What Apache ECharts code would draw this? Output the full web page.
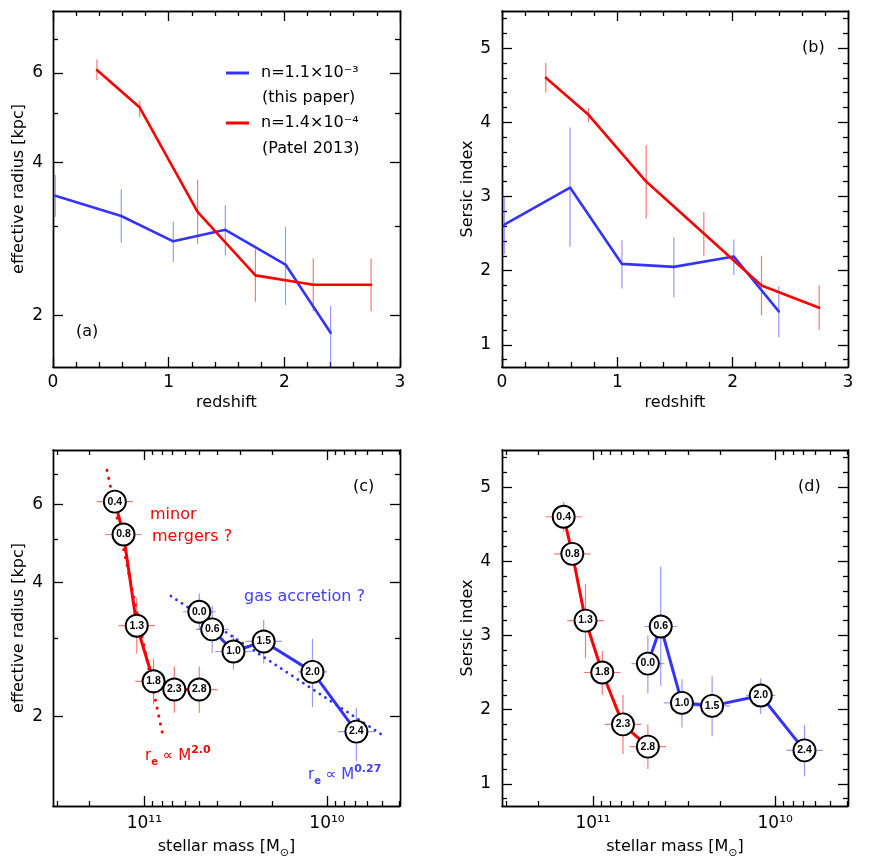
<!DOCTYPE html>
<html><head><meta charset="utf-8">
<script src="https://cdn.jsdelivr.net/npm/echarts@6/dist/echarts.min.js"></script>
<style>html,body{margin:0;padding:0;background:#fff}#chart{width:872px;height:861px}</style>
</head><body><div id="chart"></div>
<script>
// ---------------- data ----------------
// this paper (blue), n = 1.1e-3
const zBlue = [0.02, 0.59, 1.04, 1.49, 2.01, 2.40];
const zBlueLabels = ['0.0', '0.6', '1.0', '1.5', '2.0', '2.4'];
const reBlue = [3.44, 3.14, 2.80, 2.95, 2.52, 1.85];
const reBlueLo = [3.13, 2.78, 2.55, 2.63, 2.10, 1.59];
const reBlueHi = [3.78, 3.55, 3.06, 3.30, 2.99, 2.09];
const nBlue = [2.62, 3.12, 2.09, 2.05, 2.19, 1.45];
const nBlueLo = [2.22, 2.32, 1.76, 1.64, 1.94, 1.10];
const nBlueHi = [3.00, 3.93, 2.41, 2.45, 2.42, 1.79];
const massBlue = [5.0, 4.25, 3.25, 2.22, 1.20, 0.69];      // 1e10 Msun
const massErrBlue = [0.09, 0.09, 0.10, 0.10, 0.08, 0.10];  // dex

// Patel 2013 (red), n = 1.4e-4
const zRed = [0.38, 0.75, 1.25, 1.75, 2.25, 2.75];
const zRedLabels = ['0.4', '0.8', '1.3', '1.8', '2.3', '2.8'];
const reRed = [6.08, 5.13, 3.20, 2.40, 2.30, 2.30];
const reRedLo = [5.81, 4.91, 2.77, 2.13, 2.04, 2.04];
const reRedHi = [6.38, 5.29, 3.70, 2.70, 2.59, 2.59];
const nRed = [4.60, 4.10, 3.20, 2.50, 1.80, 1.50];
const nRedLo = [4.40, 4.00, 2.70, 2.20, 1.40, 1.20];
const nRedHi = [4.80, 4.19, 3.69, 2.79, 2.20, 1.80];
const massRed = [14.5, 13.0, 11.0, 8.9, 6.85, 5.0];        // 1e10 Msun
const massErrRed = [0.10, 0.10, 0.10, 0.10, 0.10, 0.10];   // dex

// power-law guide lines in panel (c): end points
const fitRedMass = [16.0, 7.95];  const fitRedRe = [7.15, 1.83];
const fitBlueMass = [7.15, 0.50]; const fitBlueRe = [3.73, 1.82];

// ticks
const zMajor = [0, 1, 2, 3];
const zMinor = [0.2, 0.4, 0.6, 0.8, 1.2, 1.4, 1.6, 1.8, 2.2, 2.4, 2.6, 2.8];
const reMajor = [2, 4, 6];
const reMinor = [3, 5, 7];
const nMajor = [1, 2, 3, 4, 5];
const nMinor = [0.8, 1.2, 1.4, 1.6, 1.8, 2.2, 2.4, 2.6, 2.8, 3.2, 3.4, 3.6, 3.8, 4.2, 4.4, 4.6, 4.8, 5.2, 5.4];
const massMajor = [1, 10];   // 1e10 Msun
const massMinor = [0.4, 0.5, 0.6, 0.7, 0.8, 0.9, 2, 3, 4, 5, 6, 7, 8, 9, 20, 30];

// ---------------- helpers ----------------
const FONT = 'DejaVu Sans';
const BLUE = '#3434ff', RED = '#ff0000';
const BLUE_ERR = 'rgba(70,70,255,0.55)', RED_ERR = 'rgba(255,30,30,0.6)';
const L = Math.log10;
const lm = m => 10 + L(m);   // log10 of mass in Msun
const SUP = {'0': '\u2070', '1': '\u00B9'};
const LB = 'n=1.1\u00D710\u207B\u00B3';
const LR = 'n=1.4\u00D710\u207B\u2074';

const grids = [
  {left: 53, top: 11, width: 347, height: 356},
  {left: 502, top: 11, width: 346, height: 356},
  {left: 53, top: 450, width: 347, height: 356},
  {left: 502, top: 450, width: 346, height: 356}
].map(g => Object.assign(g, {containLabel: false, outerBoundsMode: 'none'}));

const xAxes = [], yAxes = [];
function addAxisSet(list, gridIndex, posMain, posOpp, ext, inverse, major, minor, lab) {
  const start = list.length;
  const base = (pos, vals, len) => ({
    type: 'value', gridIndex, position: pos, min: ext[0], max: ext[1], inverse: !!inverse,
    axisLine: {show: true, onZero: false, lineStyle: {color: '#000', width: 1.4}},
    axisTick: {show: true, inside: true, length: len, customValues: vals, lineStyle: {color: '#000', width: 1.3}},
    minorTick: {show: false}, axisLabel: {show: false}, splitLine: {show: false}, silent: true
  });
  const main = base(posMain, major, 10);
  main.axisLabel = {show: true, customValues: major, formatter: lab.fmt, fontSize: 17,
    color: '#000', fontFamily: FONT, margin: lab.margin};
  main.name = lab.name; main.nameLocation = 'middle'; main.nameGap = lab.nameGap;
  main.nameTextStyle = {fontSize: 16, color: '#000', fontFamily: FONT,
    rich: {sub: {fontSize: 11, color: '#000', fontFamily: FONT, verticalAlign: 'bottom', lineHeight: 24}}};
  list.push(main, base(posMain, minor, 5), base(posOpp, major, 10), base(posOpp, minor, 5));
  return start;
}
const fmtInt = v => String(Math.round(v));
const fmtLog = v => String(Math.round(Math.pow(10, v)));
const fmtMass = v => '10' + String(Math.round(v)).split('').map(c => SUP[c]).join('');

const zLab = {fmt: fmtInt, margin: 7, name: 'redshift', nameGap: 28};
const massLab = {fmt: fmtMass, margin: 9, name: 'stellar mass [M{sub|\u2299}]', nameGap: 29};
const reLab = {fmt: fmtLog, margin: 10, name: 'effective radius [kpc]', nameGap: 26};
const nLab = {fmt: fmtInt, margin: 11, name: 'Sersic index', nameGap: 25};

const zT = [zMajor, zMinor];
const reT = [reMajor.map(L), reMinor.map(L)];
const nT = [nMajor, nMinor];
const mT = [massMajor.map(lm), massMinor.map(lm)];

// panel a
const xa = addAxisSet(xAxes, 0, 'bottom', 'top', [0, 3], false, zT[0], zT[1], zLab);
const ya = addAxisSet(yAxes, 0, 'left', 'right', [0.2, 0.9], false, reT[0], reT[1], reLab);
// panel b
const xb = addAxisSet(xAxes, 1, 'bottom', 'top', [0, 3], false, zT[0], zT[1], zLab);
const yb = addAxisSet(yAxes, 1, 'left', 'right', [0.7, 5.5], false, nT[0], nT[1], nLab);
// panel c
const xc = addAxisSet(xAxes, 2, 'bottom', 'top', [9.6, 11.5], true, mT[0], mT[1], massLab);
const yc = addAxisSet(yAxes, 2, 'left', 'right', [0.1, 0.9], false, reT[0], reT[1], reLab);
// panel d
const xd = addAxisSet(xAxes, 3, 'bottom', 'top', [9.6, 11.5], true, mT[0], mT[1], massLab);
const yd = addAxisSet(yAxes, 3, 'left', 'right', [0.7, 5.5], false, nT[0], nT[1], nLab);

function errRender(color, withX) {
  return function (params, api) {
    const x = api.value(0), y = api.value(1);
    const a = api.coord([x, api.value(2)]), b = api.coord([x, api.value(3)]);
    const style = {stroke: color, lineWidth: 1.2};
    const ch = [{type: 'line', shape: {x1: a[0], y1: a[1], x2: b[0], y2: b[1]}, style}];
    if (withX) {
      const c = api.coord([api.value(4), y]), d = api.coord([api.value(5), y]);
      ch.push({type: 'line', shape: {x1: c[0], y1: c[1], x2: d[0], y2: d[1]}, style});
    }
    return {type: 'group', children: ch};
  };
}
function errSeries(xi, yi, color, data, withX) {
  return {type: 'custom', xAxisIndex: xi, yAxisIndex: yi, renderItem: errRender(color, withX),
    encode: {x: 0, y: 1}, data, clip: true, silent: true, z: 1};
}
function lineSeries(xi, yi, name, color, width, data, dash) {
  const s = {type: 'line', xAxisIndex: xi, yAxisIndex: yi, data, symbol: 'none', showSymbol: false,
    lineStyle: {color, width, type: dash || 'solid', cap: 'round', join: 'round'},
    itemStyle: {color}, silent: true, z: dash ? 2 : 3, clip: true};
  if (name) s.name = name;
  return s;
}
function circleSeries(xi, yi, data) {
  return {type: 'scatter', xAxisIndex: xi, yAxisIndex: yi, symbol: 'circle', symbolSize: 22,
    itemStyle: {color: '#fff', borderColor: '#000', borderWidth: 1.9, opacity: 1},
    label: {show: true, position: 'inside', formatter: '{b}', fontSize: 10.5, fontWeight: 'bold',
      color: '#000', fontFamily: 'Liberation Sans'},
    data, silent: true, z: 5};
}

const series = [];
// (a) effective radius vs redshift
series.push(errSeries(xa, ya, BLUE_ERR, zBlue.map((z, i) => [z, L(reBlue[i]), L(reBlueLo[i]), L(reBlueHi[i])])));
series.push(errSeries(xa, ya, RED_ERR, zRed.map((z, i) => [z, L(reRed[i]), L(reRedLo[i]), L(reRedHi[i])])));
series.push(lineSeries(xa, ya, LB, BLUE, 2.6, zBlue.map((z, i) => [z, L(reBlue[i])])));
series.push(lineSeries(xa, ya, LR, RED, 2.6, zRed.map((z, i) => [z, L(reRed[i])])));
// (b) Sersic index vs redshift
series.push(errSeries(xb, yb, BLUE_ERR, zBlue.map((z, i) => [z, nBlue[i], nBlueLo[i], nBlueHi[i]])));
series.push(errSeries(xb, yb, RED_ERR, zRed.map((z, i) => [z, nRed[i], nRedLo[i], nRedHi[i]])));
series.push(lineSeries(xb, yb, null, BLUE, 2.6, zBlue.map((z, i) => [z, nBlue[i]])));
series.push(lineSeries(xb, yb, null, RED, 2.6, zRed.map((z, i) => [z, nRed[i]])));
// (c) effective radius vs stellar mass
series.push(errSeries(xc, yc, BLUE_ERR, massBlue.map((m, i) => [lm(m), L(reBlue[i]), L(reBlueLo[i]), L(reBlueHi[i]), lm(m) - massErrBlue[i], lm(m) + massErrBlue[i]]), true));
series.push(errSeries(xc, yc, RED_ERR, massRed.map((m, i) => [lm(m), L(reRed[i]), L(reRedLo[i]), L(reRedHi[i]), lm(m) - massErrRed[i], lm(m) + massErrRed[i]]), true));
series.push(lineSeries(xc, yc, null, RED, 3, fitRedMass.map((m, i) => [lm(m), L(fitRedRe[i])]), [0.1, 8]));
series.push(lineSeries(xc, yc, null, BLUE, 2.8, fitBlueMass.map((m, i) => [lm(m), L(fitBlueRe[i])]), [0.1, 6.5]));
series.push(lineSeries(xc, yc, null, RED, 3, massRed.map((m, i) => [lm(m), L(reRed[i])])));
series.push(lineSeries(xc, yc, null, BLUE, 3, massBlue.map((m, i) => [lm(m), L(reBlue[i])])));
series.push(circleSeries(xc, yc, massRed.map((m, i) => ({name: zRedLabels[i], value: [lm(m), L(reRed[i])]}))));
series.push(circleSeries(xc, yc, massBlue.map((m, i) => ({name: zBlueLabels[i], value: [lm(m), L(reBlue[i])]}))));
// (d) Sersic index vs stellar mass
series.push(errSeries(xd, yd, BLUE_ERR, massBlue.map((m, i) => [lm(m), nBlue[i], nBlueLo[i], nBlueHi[i], lm(m) - massErrBlue[i], lm(m) + massErrBlue[i]]), true));
series.push(errSeries(xd, yd, RED_ERR, massRed.map((m, i) => [lm(m), nRed[i], nRedLo[i], nRedHi[i], lm(m) - massErrRed[i], lm(m) + massErrRed[i]]), true));
series.push(lineSeries(xd, yd, null, RED, 3, massRed.map((m, i) => [lm(m), nRed[i]])));
series.push(lineSeries(xd, yd, null, BLUE, 3, massBlue.map((m, i) => [lm(m), nBlue[i]])));
series.push(circleSeries(xd, yd, massRed.map((m, i) => ({name: zRedLabels[i], value: [lm(m), nRed[i]]}))));
series.push(circleSeries(xd, yd, massBlue.map((m, i) => ({name: zBlueLabels[i], value: [lm(m), nBlue[i]]}))));

function txt(x, y, text, color, size, extra) {
  return Object.assign({type: 'text', x, y, silent: true, z: 10,
    style: {text, fill: color, fontSize: size || 16, fontFamily: FONT,
      align: 'left', verticalAlign: 'middle', textAlign: 'left', textVerticalAlign: 'middle'}}, extra || {});
}
function powerLaw(x, y, color, exp) {
  const t = txt(x, y, '{r|r}{e|e}{r| \u221D M}{s|' + exp + '}', color, 15);
  t.style.rich = {
    r: {fill: color, fontSize: 15, fontFamily: FONT, lineHeight: 22},
    e: {fill: color, fontSize: 10, fontFamily: FONT, fontWeight: 'bold', verticalAlign: 'bottom', lineHeight: 22},
    s: {fill: color, fontSize: 11, fontFamily: FONT, fontWeight: 'bold', verticalAlign: 'top', lineHeight: 14}
  };
  return t;
}

const option = {
  animation: false,
  backgroundColor: '#fff',
  grid: grids,
  xAxis: xAxes,
  yAxis: yAxes,
  legend: {
    data: [{name: LB, icon: 'rect'}, {name: LR, icon: 'rect'}],
    left: 226, top: 63, orient: 'vertical', padding: 0,
    itemWidth: 23, itemHeight: 3, itemGap: 30, selectedMode: false,
    textStyle: {fontSize: 16, color: '#000', fontFamily: FONT, lineHeight: 20, padding: [0, 0, 0, 7]}
  },
  series,
  graphic: [
    txt(76, 332, '(a)', '#000', 16),
    txt(802, 48, '(b)', '#000', 16),
    txt(353, 487, '(c)', '#000', 16),
    txt(798, 487, '(d)', '#000', 16),
    txt(262, 98, '(this paper)', '#000', 16),
    txt(262, 149, '(Patel 2013)', '#000', 16),
    txt(150, 515, 'minor', RED, 16),
    txt(152, 537, 'mergers ?', RED, 16),
    txt(244, 597, 'gas accretion ?', '#4040ff', 16),
    powerLaw(145, 756, RED, '2.0'),
    powerLaw(308, 775, '#4040ff', '0.27')
  ]
};
const chart = echarts.init(document.getElementById('chart'), null, {renderer: 'canvas'});
chart.setOption(option);
</script>
</body></html>
